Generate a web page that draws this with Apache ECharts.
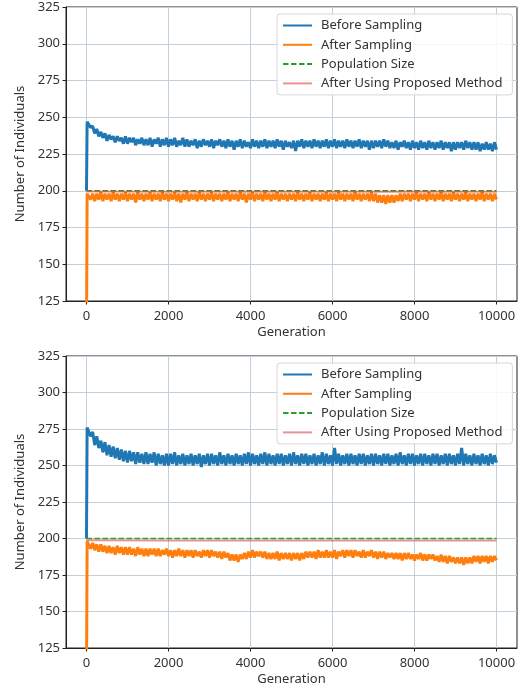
<!DOCTYPE html>
<html>
<head>
<meta charset="utf-8">
<script src="https://cdn.jsdelivr.net/npm/echarts@6/dist/echarts.min.js"></script>
<style>
html,body{margin:0;padding:0;background:#fff;}
#chart{width:521px;height:693px;}
</style>
</head>
<body>
<div id="chart"></div>
<script>
// main samples start at generation 50 and are spaced every 50 generations
const GEN_START = 50;
const GEN_STEP = 50;
// the first few generations (the initial jump)
const startGens = [0, 15];
const xTicks = [0, 2000, 4000, 6000, 8000, 10000];
const seriesNames = ['Before Sampling', 'After Sampling', 'Population Size', 'After Using Proposed Method'];

// ---- top panel ----
const topBeforeStart = [200, 247];
const topBefore = [
248,243,244,239,242,237,240,236,239,
234,238,235,237,233,237,234,236,232,237,
232,236,233,236,231,235,232,236,231,235,
231,236,230,235,232,236,230,235,231,236,
230,235,231,236,230,234,231,236,230,235,
230,234,231,235,229,234,230,235,231,234,
230,235,229,234,231,235,230,234,229,235,
230,234,228,234,230,235,229,234,230,233,
229,235,230,234,229,234,230,235,229,234,
230,234,229,235,230,234,228,234,230,233,
229,234,227,234,230,235,229,234,230,234,
229,235,230,234,229,234,230,235,229,234,
230,235,229,234,230,234,229,235,230,234,
229,234,230,235,229,234,230,234,228,234,
229,234,230,234,229,235,230,234,229,233,
229,234,228,233,230,234,229,233,228,234,
229,233,228,234,229,233,228,234,229,233,
228,233,229,234,228,233,229,233,227,233,
228,233,229,233,228,234,229,233,228,233,
228,233,227,232,228,233,228,232,227,233,
228];
const topAfterStart = [100, 198];
const topAfter = [
199,194,198,193,198,194,199,193,198,
194,198,193,199,194,198,193,198,194,199,
193,198,194,198,192,199,194,198,193,198,
194,199,193,198,194,198,193,199,194,198,
193,198,194,199,193,198,192,198,194,199,
193,198,194,198,193,199,194,198,193,198,
194,199,193,198,194,198,193,198,194,199,
193,198,194,198,193,199,194,198,192,198,
194,199,193,198,194,198,193,199,194,198,
193,198,194,199,193,198,194,198,193,198,
194,198,193,199,194,198,193,198,194,199,
193,198,194,198,193,198,194,199,193,198,
194,198,193,199,194,198,193,198,194,198,
193,199,194,198,193,198,194,198,193,199,
193,198,192,197,192,197,191,197,192,197,
192,197,193,198,193,198,194,198,193,198,
194,199,193,198,194,198,193,199,194,198,
193,198,194,199,193,198,194,198,193,199,
194,198,193,198,194,199,193,198,194,198,
193,198,194,199,193,198,194,198,193,198,
194];
const topPopGen = [0, 10000];
const topPop = [200, 200];
const topProposedGen = [0, 2000, 4000, 6000, 8000, 10000];
const topProposed = [199.5, 199.4, 199.5, 199.4, 199.5, 199.4];

// ---- bottom panel ----
const botBeforeStart = [200, 276];
const botBefore = [
277,270,273,264,270,262,267,259,266,
257,264,256,263,255,262,254,261,253,260,
252,260,253,259,251,259,252,258,251,259,
251,258,252,259,250,258,251,257,250,258,
250,258,251,259,250,257,251,258,250,257,
251,258,250,257,251,258,249,257,251,258,
250,258,251,257,250,259,251,257,250,258,
251,257,250,258,251,257,250,258,251,259,
250,258,251,257,250,258,251,259,250,258,
251,257,250,258,251,258,250,257,251,258,
250,259,251,257,250,258,251,258,250,257,
251,258,250,257,251,259,250,258,251,257,
250,262,251,258,250,257,251,258,250,258,
251,257,250,258,251,258,250,257,251,258,
250,258,251,257,250,258,251,258,250,257,
251,258,250,259,251,257,250,258,251,258,
250,257,251,258,250,258,251,257,250,258,
251,258,250,257,251,258,250,258,251,257,
250,258,251,262,250,258,251,257,250,258,
251,257,250,258,251,257,250,258,251,257,
252];
const botAfterStart = [100, 198];
const botAfter = [
199,193,197,192,196,191,196,191,195,
190,195,190,194,189,195,190,194,189,194,
189,194,189,193,188,194,189,193,188,193,
188,193,189,193,188,193,188,192,189,193,
188,192,187,192,188,193,188,192,187,192,
188,192,187,192,188,191,187,192,188,192,
187,192,188,191,187,191,186,191,187,190,
185,189,185,189,184,189,186,190,186,191,
187,192,187,191,188,191,187,191,186,190,
186,190,186,191,185,190,186,190,186,190,
185,190,186,190,185,190,186,191,187,191,
187,191,186,192,187,191,187,192,187,191,
187,192,186,191,188,192,187,192,188,192,
187,192,188,191,187,192,187,191,188,192,
187,191,186,191,187,191,186,190,187,190,
186,190,186,190,185,190,186,190,186,189,
185,189,186,190,185,189,185,189,186,189,
185,188,184,189,184,188,183,188,184,187,
183,187,183,187,182,187,183,187,183,188,
184,188,183,188,184,188,183,188,184,188,
185];
const botPopGen = [0, 10000];
const botPop = [200, 200];
const botProposedGen = [0, 2000, 4000, 6000, 8000, 10000];
const botProposed = [198.8, 198.6, 198.7, 198.6, 198.7, 198.6];

const C_BLUE = '#1f77b4', C_ORANGE = '#ff7f0e', C_GREEN = '#2ca02c', C_RED = 'rgba(214,39,40,0.5)';
const FONT = '"Noto Sans", sans-serif';

function paired(gens, values) { return gens.map((g, i) => [g, values[i]]); }
function sampled(startVals, values) {
  return paired(startGens, startVals).concat(values.map((v, i) => [GEN_START + i * GEN_STEP, v]));
}

function makeXAxis(gridIndex) {
  return {
    type: 'value', gridIndex, min: -500, max: 10500,
    name: 'Generation', nameLocation: 'middle', nameGap: 25,
    nameTextStyle: { color: '#333', fontSize: 13, fontFamily: FONT },
    axisLine: { show: true, onZero: false, lineStyle: { color: '#222', width: 1 } },
    axisTick: { show: true, length: 3.5, lineStyle: { color: '#222' }, customValues: xTicks },
    axisLabel: { color: '#333', fontSize: 13, fontFamily: FONT, margin: 9, customValues: xTicks, formatter: v => String(v) },
    splitLine: { show: true, lineStyle: { color: '#c3d0da', width: 1 } }
  };
}
function makeYAxis(gridIndex) {
  return {
    type: 'value', gridIndex, min: 125, max: 325, interval: 25,
    name: 'Number of Individuals', nameLocation: 'middle', nameGap: 36,
    nameTextStyle: { color: '#333', fontSize: 13, fontFamily: FONT },
    axisLine: { show: true, onZero: false, lineStyle: { color: '#222', width: 1 } },
    axisTick: { show: true, length: 3.5, lineStyle: { color: '#222' } },
    axisLabel: { color: '#333', fontSize: 13, fontFamily: FONT, margin: 6 },
    splitLine: { show: true, lineStyle: { color: '#c3d0da', width: 1 } }
  };
}
function makeLegend(top) {
  return {
    orient: 'vertical', left: 277, top,
    data: seriesNames.map(n => ({ name: n })),
    itemWidth: 29, itemHeight: 14, itemGap: 6.3,
    padding: [5, 10, 5, 5],
    backgroundColor: 'rgba(255,255,255,0.85)',
    borderColor: '#d6d6d6', borderWidth: 1, borderRadius: 3,
    lineStyle: { width: 2 },
    itemStyle: { opacity: 0 },
    textStyle: { color: '#333', fontSize: 13, fontFamily: FONT, padding: [0, 0, 0, 4] },
    selectedMode: false
  };
}
function makeSeries(idx, beforeStart, before, afterStart, after, popG, pop, propG, prop) {
  const base = { type: 'line', xAxisIndex: idx, yAxisIndex: idx, symbol: 'none', animation: false, clip: true };
  return [
    Object.assign({}, base, { name: seriesNames[0], data: sampled(beforeStart, before), lineStyle: { color: C_BLUE, width: 3 }, itemStyle: { color: C_BLUE } }),
    Object.assign({}, base, { name: seriesNames[1], data: sampled(afterStart, after), lineStyle: { color: C_ORANGE, width: 3 }, itemStyle: { color: C_ORANGE } }),
    Object.assign({}, base, { name: seriesNames[2], data: paired(popG, pop), lineStyle: { color: C_GREEN, width: 1.5, type: [5.5, 2.5] }, itemStyle: { color: C_GREEN } }),
    Object.assign({}, base, { name: seriesNames[3], data: paired(propG, prop), lineStyle: { color: C_RED, width: 2 }, itemStyle: { color: C_RED } })
  ];
}

const chart = echarts.init(document.getElementById('chart'), null, { renderer: 'canvas' });
chart.setOption({
  animation: false,
  backgroundColor: '#fff',
  textStyle: { fontFamily: FONT },
  grid: [
    { left: 66, top: 7, width: 451, height: 294, show: true, borderColor: '#222', borderWidth: 1, backgroundColor: 'transparent' },
    { left: 66, top: 356, width: 451, height: 292, show: true, borderColor: '#222', borderWidth: 1, backgroundColor: 'transparent' }
  ],
  xAxis: [makeXAxis(0), makeXAxis(1)],
  yAxis: [makeYAxis(0), makeYAxis(1)],
  legend: [makeLegend(14), makeLegend(363)],
  series: [].concat(
    makeSeries(0, topBeforeStart, topBefore, topAfterStart, topAfter, topPopGen, topPop, topProposedGen, topProposed),
    makeSeries(1, botBeforeStart, botBefore, botAfterStart, botAfter, botPopGen, botPop, botProposedGen, botProposed)
  )
});
</script>
</body>
</html>
